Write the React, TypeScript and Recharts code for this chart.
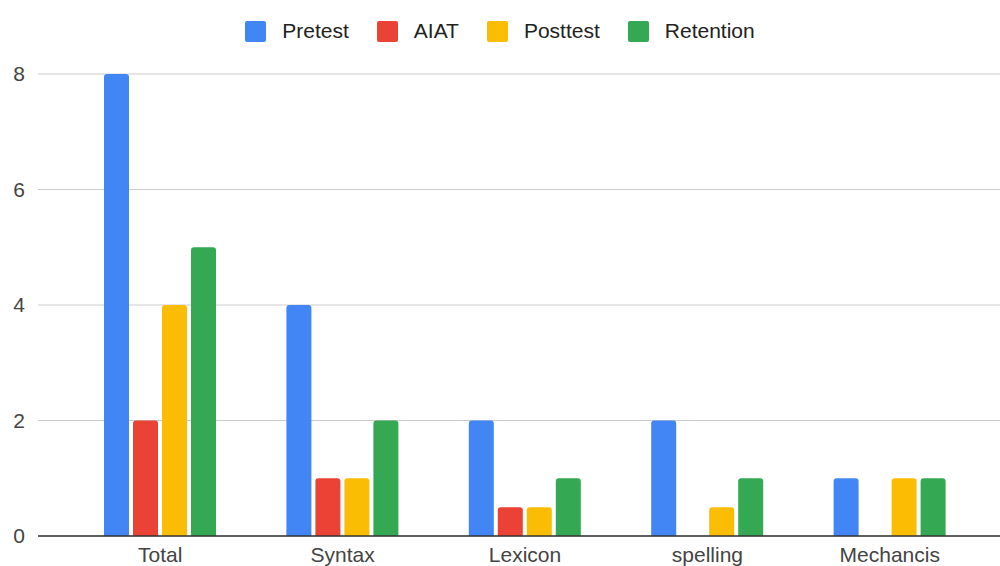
import React from 'react';
import { BarChart, Bar, XAxis, YAxis, CartesianGrid, Legend } from 'recharts';

const categories = ['Total', 'Syntax', 'Lexicon', 'spelling', 'Mechancis'];
const pretest = [8, 4, 2, 2, 1];
const aiat = [2, 1, 0.5, 0, 0];
const posttest = [4, 1, 0.5, 0.5, 1];
const retention = [5, 2, 1, 1, 1];
const yTicks = [0, 2, 4, 6, 8];

const series = [
  { key: 'Pretest', values: pretest, color: '#4285F4' },
  { key: 'AIAT', values: aiat, color: '#EA4335' },
  { key: 'Posttest', values: posttest, color: '#FBBC04' },
  { key: 'Retention', values: retention, color: '#34A853' },
];

const chartData = categories.map((name, i) => {
  const row: Record<string, string | number> = { name };
  series.forEach(s => {
    row[s.key] = s.values[i];
  });
  return row;
});

const FONT = '"Liberation Sans", Arial, sans-serif';

// legend kept in series order (recharts sorts the payload by name)
const TopLegend = () => (
  <div style={{ height: 54, fontFamily: FONT }}>
    <div
      style={{
        marginTop: 10,
        height: 22,
        display: 'flex',
        justifyContent: 'center',
        alignItems: 'center',
      }}
    >
      {series.map((s, index) => (
        <div
          key={s.key}
          style={{
            display: 'flex',
            alignItems: 'center',
            marginRight: index < series.length - 1 ? 28 : 0,
          }}
        >
          <span
            style={{
              width: 21,
              height: 21,
              background: s.color,
              borderRadius: 2,
              marginRight: 16,
              display: 'inline-block',
            }}
          />
          <span style={{ fontSize: 21, color: '#222' }}>{s.key}</span>
        </div>
      ))}
    </div>
  </div>
);

export default function App() {
  return (
    <div style={{ position: 'absolute', left: 0, top: 0, background: '#fff' }}>
      <BarChart
        width={1000}
        height={566}
        data={chartData}
        margin={{ top: 10, right: 0, left: 0, bottom: 0 }}
        barGap={4}
      >
        <CartesianGrid vertical={false} stroke="#cccccc" />
        <XAxis
          dataKey="name"
          height={30}
          padding={{ left: 31, right: 19 }}
          tickLine={false}
          tickSize={0}
          tickMargin={11}
          axisLine={{ stroke: '#333333', strokeWidth: 1.5 }}
          tick={{ fill: '#444', fontSize: 21, fontFamily: FONT }}
        />
        <YAxis
          width={38}
          domain={[0, 8]}
          ticks={yTicks}
          tickLine={false}
          tickSize={0}
          tickMargin={13}
          axisLine={false}
          tick={{ fill: '#444', fontSize: 21, fontFamily: FONT }}
        />
        <Legend verticalAlign="top" content={<TopLegend />} />
        {series.map(s => (
          <Bar
            key={s.key}
            dataKey={s.key}
            fill={s.color}
            barSize={25}
            radius={[3, 3, 0, 0]}
            isAnimationActive={false}
          />
        ))}
      </BarChart>
    </div>
  );
}
